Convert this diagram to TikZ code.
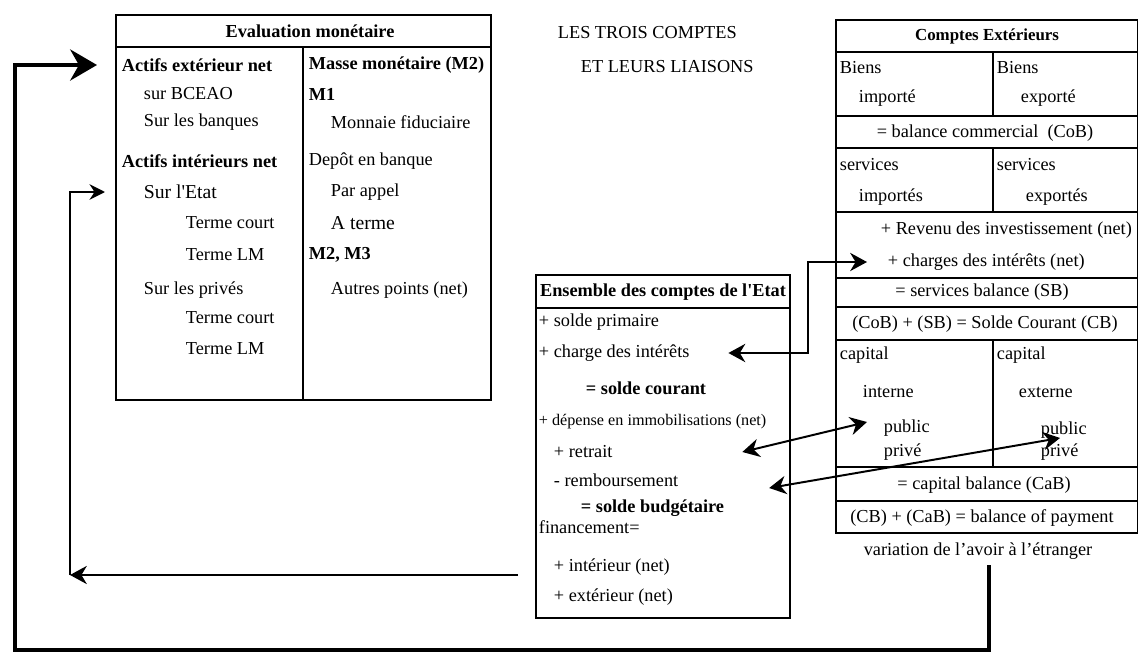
\documentclass[tikz,border=0pt]{standalone}
\usepackage{fontspec}
\setmainfont{Liberation Serif}
\usetikzlibrary{arrows.meta,calc}

\tikzset{
  txt/.style={anchor=west, inner sep=0pt, font=\fontsize{13}{15}\selectfont},
  btxt/.style={txt, font=\fontsize{13}{15}\selectfont\bfseries},
  hd/.style={inner sep=0pt, font=\fontsize{13}{15}\selectfont\bfseries},
  ctr/.style={inner sep=0pt, font=\fontsize{13}{15}\selectfont},
  link/.style={line width=1.4pt, {Stealth[length=12pt,width=13pt]}-{Stealth[length=12pt,width=13pt]}},
  back/.style={line width=3.5pt, line join=miter, -{Stealth[length=19pt,width=22pt]}}
}

\begin{document}
\begin{tikzpicture}[x=0.025cm, y=-0.025cm, line width=1.3pt]
\useasboundingbox (0,0) rectangle (1138,657);

% Evaluation monetaire
\draw (116,15) rectangle (491,400);
\draw (116,47) -- (491,47);
\draw (303,47) -- (303,400);
\node[hd] (evh) at (310,31) {Evaluation monétaire};
\node[btxt] (actx) at (121,65) {Actifs extérieur net};
\node[txt] at (143,94) {sur BCEAO};
\node[txt] at (143,122) {Sur les banques};
\node[btxt] at (121,161) {Actifs intérieurs net};
\node[txt, font=\fontsize{14}{16}\selectfont] (surE) at (143,192) {Sur l\textquotesingle Etat};
\node[txt] at (185,223) {Terme court};
\node[txt] at (185,255) {Terme LM};
\node[txt] at (143,290) {Sur les privés};
\node[txt] at (185,318) {Terme court};
\node[txt] at (185,349) {Terme LM};
\node[btxt] at (308,65) {Masse monétaire (M2)};
\node[btxt] at (308,94) {M1};
\node[txt] at (330,122) {Monnaie fiduciaire};
\node[txt] at (308,161) {Depôt en banque};
\node[txt] at (330,192) {Par appel};
\node[txt, font=\fontsize{14}{16}\selectfont] at (330,223) {A terme};
\node[btxt] at (308,255) {M2, M3};
\node[txt] at (330,290) {Autres points (net)};

% titre
\node[txt] (t1) at (557,33) {LES TROIS COMPTES};
\node[txt] (t2) at (580,67) {ET LEURS LIAISONS};

% Ensemble des comptes de l'Etat
\draw (536,275) rectangle (790,618);
\draw (536,308) -- (790,308);
\node[hd] (eth) at (663,292) {Ensemble des comptes de l\textquotesingle Etat};
\node[txt] at (538,322) {+ solde primaire};
\node[txt] (chgE) at (538,353) {+ charge des intérêts};
\node[btxt] at (585,388) {= solde courant};
\node[txt, font=\fontsize{11.5}{13}\selectfont] at (538,422) {+ dépense en immobilisations (net)};
\node[txt] (retr) at (553,452) {+ retrait};
\node[txt] (remb) at (553,480) {- remboursement};
\node[btxt] at (580,508) {= solde budgétaire};
\node[txt] at (538,527) {financement=};
\node[txt] (intr) at (553,567) {+ intérieur (net)};
\node[txt] at (553,597) {+ extérieur (net)};

% Comptes Exterieurs
\draw (836,20) rectangle (1138,533);
\foreach \y in {52,116,148,212,278,307,340,467,501}
  \draw (836,\y) -- (1138,\y);
\draw (993,52) -- (993,116);
\draw (993,148) -- (993,212);
\draw (993,340) -- (993,467);
\node[hd, font=\fontsize{12}{14}\selectfont\bfseries] (exh) at (987,36) {Comptes Extérieurs};
\node[txt] at (839,68) {Biens};
\node[txt] at (858,98) {importé};
\node[txt] at (996,68) {Biens};
\node[txt] at (1020,98) {exporté};
\node[ctr] at (985,133) {= balance commercial~ (CoB)};
\node[txt] at (839,165) {services};
\node[txt] at (858,197) {importés};
\node[txt] at (996,165) {services};
\node[txt] at (1025,197) {exportés};
\node[txt] at (880,230) {+ Revenu des investissement (net)};
\node[txt] (chgC) at (887,262) {+ charges des intérêts (net)};
\node[ctr] at (982,292) {= services balance (SB)};
\node[ctr] at (985,324) {(CoB) + (SB) = Solde Courant (CB)};
\node[txt] at (839,355) {capital};
\node[txt] at (862,392) {interne};
\node[txt] (pubI) at (883,428) {public};
\node[txt] at (883,452) {privé};
\node[txt] at (996,355) {capital};
\node[txt] at (1018,392) {externe};
\node[txt] (pubX) at (1040,430) {public};
\node[txt] at (1040,452) {privé};
\node[ctr] at (984,485) {= capital balance (CaB)};
\node[ctr] at (982,518) {(CB) + (CaB) = balance of payment};
\node[ctr] (var) at (978,551) {variation de l'avoir à l'étranger};

% liaisons
\draw[link] ($(chgE.east)+(38,0)$) -- ++(80,0) |- ($(chgC.west)+(-20,0)$);
\draw[link] ($(retr.east)+(129,0)$) -- ($(pubI.west)+(-16,-6)$);
\draw[link] ($(remb.east)+(90,8)$) -- ($(pubX.west)+(20,8)$);

\coordinate (vtop) at (989,565);
\coordinate (sw) at (15,650);
\draw[back] (vtop) |- (sw) |- ($(actx.west)+(-24,0)$);

\coordinate (fin) at (518,575);
\coordinate (lc) at (70,575);
\draw[line width=1.2pt, -{Stealth[length=12pt,width=13pt]}] (fin) -- (lc);
\draw[line width=1.2pt, -{Stealth[length=11pt,width=11pt]}] (lc) |- ($(surE.west)+(-38,0)$);
\end{tikzpicture}
\end{document}
